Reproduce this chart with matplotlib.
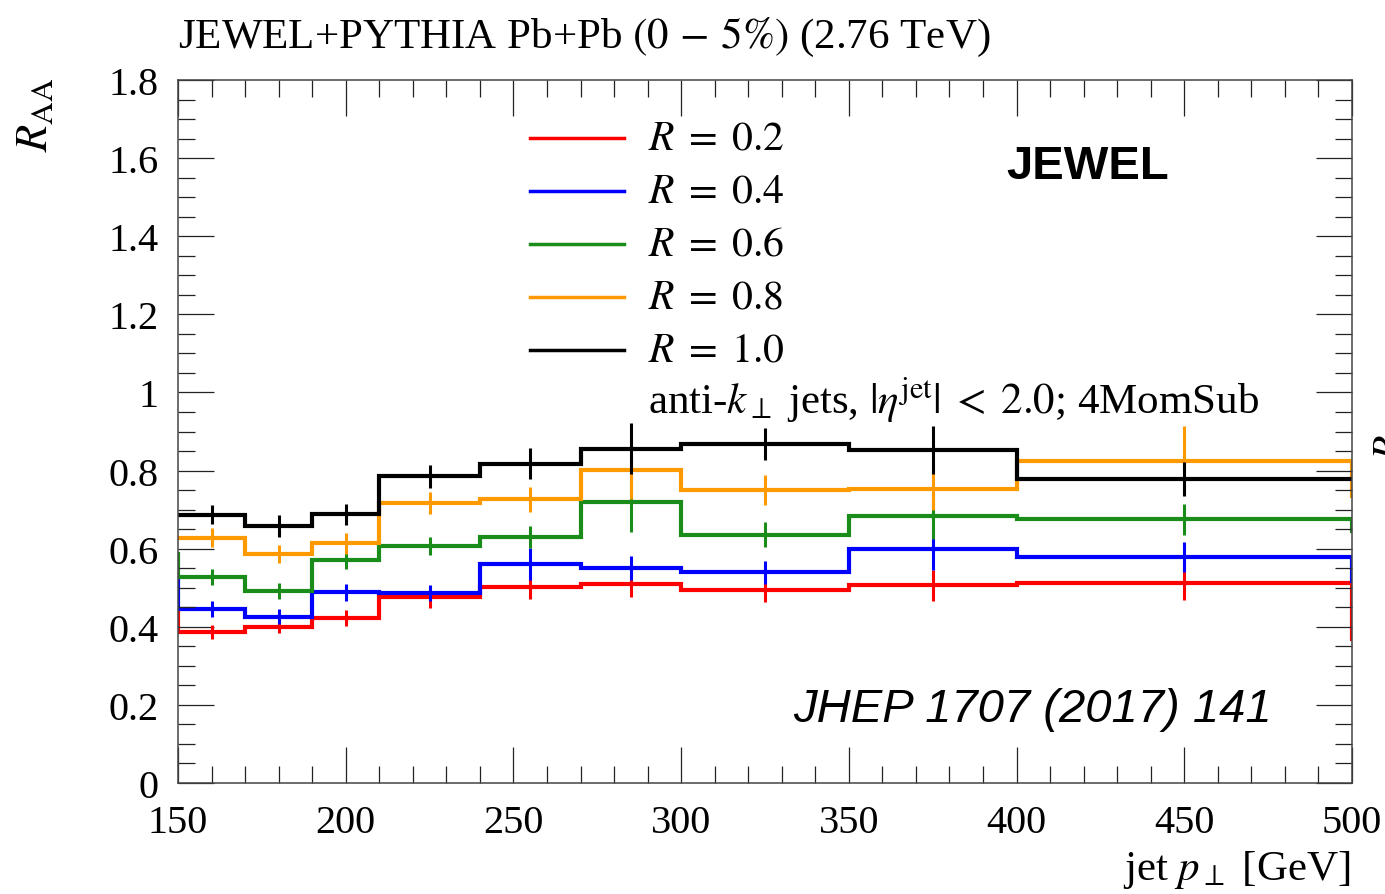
import numpy as np
import matplotlib
matplotlib.use("Agg")
from matplotlib import pyplot as plt
from matplotlib.ticker import MultipleLocator

plt.rcParams['font.family'] = ['Liberation Serif', 'DejaVu Serif']
plt.rcParams['mathtext.fontset'] = 'stix'

# bin edges in jet pT; the first and last bins lie just outside the plotted range
edges = [130, 150, 170, 190, 210, 240, 270, 300, 350, 400, 500, 550]

raa_r02 = [0.441, 0.386, 0.400, 0.423, 0.475, 0.503, 0.509, 0.495, 0.506, 0.511, 0.369]
err_r02 = [0.0, 0.018, 0.017, 0.020, 0.027, 0.032, 0.032, 0.032, 0.039, 0.042, 0.0]

raa_r04 = [0.522, 0.445, 0.426, 0.488, 0.487, 0.560, 0.550, 0.539, 0.599, 0.579, 0.518]
err_r04 = [0.0, 0.020, 0.019, 0.021, 0.020, 0.041, 0.031, 0.029, 0.053, 0.038, 0.0]

raa_r06 = [0.586, 0.527, 0.491, 0.570, 0.606, 0.630, 0.719, 0.635, 0.684, 0.675, 0.644]
err_r06 = [0.0, 0.020, 0.020, 0.023, 0.023, 0.029, 0.076, 0.032, 0.059, 0.040, 0.0]

raa_r08 = [0.628, 0.628, 0.587, 0.614, 0.716, 0.726, 0.801, 0.750, 0.752, 0.825, 0.735]
err_r08 = [0.0, 0.025, 0.023, 0.027, 0.028, 0.031, 0.075, 0.038, 0.053, 0.088, 0.0]

raa_r10 = [0.687, 0.687, 0.657, 0.688, 0.785, 0.818, 0.856, 0.868, 0.853, 0.778, 0.778]
err_r10 = [0.0, 0.025, 0.028, 0.027, 0.029, 0.039, 0.065, 0.041, 0.061, 0.043, 0.0]

labels = [r'$R\;=\;0.2$', r'$R\;=\;0.4$', r'$R\;=\;0.6$', r'$R\;=\;0.8$', r'$R\;=\;1.0$']
colors = ['#ff0000', '#0000ff', '#1a8c1a', '#ff9900', '#000000']

x_ticks = [150, 200, 250, 300, 350, 400, 450, 500]
y_ticks = [0, 0.2, 0.4, 0.6, 0.8, 1.0, 1.2, 1.4, 1.6, 1.8]
y_tick_labels = ['0', '0.2', '0.4', '0.6', '0.8', '1', '1.2', '1.4', '1.6', '1.8']

series = [(raa_r02, err_r02), (raa_r04, err_r04), (raa_r06, err_r06),
          (raa_r08, err_r08), (raa_r10, err_r10)]

fig = plt.figure(figsize=(13.85, 8.95), dpi=100)
ax = fig.add_axes([178/1385, 1 - 784/895, 1174/1385, 703/895])

edges_arr = np.array(edges, dtype=float)
centers = 0.5 * (edges_arr[:-1] + edges_arr[1:])

for (vals, errs), col in zip(series, colors):
    ax.stairs(vals, edges_arr, baseline=None, color=col, lw=3.0)
    ax.errorbar(centers, vals, yerr=errs, fmt='none', ecolor=col,
                elinewidth=2.2, capsize=0)

ax.set_xlim(150, 500)
ax.set_ylim(0, 1.8)

ax.set_xticks(x_ticks)
ax.set_xticklabels([str(t) for t in x_ticks])
ax.set_yticks(y_ticks)
ax.set_yticklabels(y_tick_labels)
ax.xaxis.set_minor_locator(MultipleLocator(10))
ax.yaxis.set_minor_locator(MultipleLocator(0.05))
ax.tick_params(which='both', direction='in', top=True, right=True,
               labelsize=29, color='#222222')
ax.tick_params(which='major', length=26, width=0.9)
ax.tick_params(which='minor', length=12, width=0.9)
ax.tick_params(axis='y', pad=14)
ax.tick_params(axis='x', pad=15)
for sp in ax.spines.values():
    sp.set_linewidth(1.1)
    sp.set_color('#444444')

# legend drawn by hand
lx0, lx1, tx = 0.2998, 0.380, 0.4003
ly0, dly = 0.9175, 0.0754
for i, (lab, col) in enumerate(zip(labels, colors)):
    y = ly0 - i * dly
    ax.plot([lx0, lx1], [y, y], color=col, lw=2.5, transform=ax.transAxes,
            clip_on=False)
    ax.text(tx, y, lab, transform=ax.transAxes, fontsize=30, va='center',
            ha='left')
ax.text(tx, 0.526,
        r'anti-$k_\perp$ jets, $|\eta^{\mathrm{jet}}|\;<\;2.0$; 4MomSub',
        transform=ax.transAxes, fontsize=31, va='baseline', ha='left')

ax.text(0.775, 0.878, 'JEWEL', transform=ax.transAxes, fontsize=34,
        fontweight='bold', family='Liberation Sans', ha='center', va='center')
ax.text(0.932, 0.088, 'JHEP 1707 (2017) 141', transform=ax.transAxes,
        fontsize=34, style='italic', family='Liberation Sans', ha='right',
        va='baseline')

fig.text(178/1385, 1 - 48/895, r'JEWEL+PYTHIA Pb+Pb $(0\,-\,5\%)$ (2.76 TeV)',
         fontsize=31, ha='left', va='baseline')
fig.text(1350/1385, 1 - 880/895, r'jet $p_\perp$ [GeV]', fontsize=31,
         ha='right', va='baseline')
fig.text(36/1385, 1 - 78/895, r'$R_{\mathrm{AA}}$', fontsize=32,
         rotation=90, ha='center', va='top')
fig.text(1372/1385, 1 - 447/895, r'$R$', fontsize=30, rotation=90,
         ha='left', va='center')

fig.savefig('out.png', dpi=100)
